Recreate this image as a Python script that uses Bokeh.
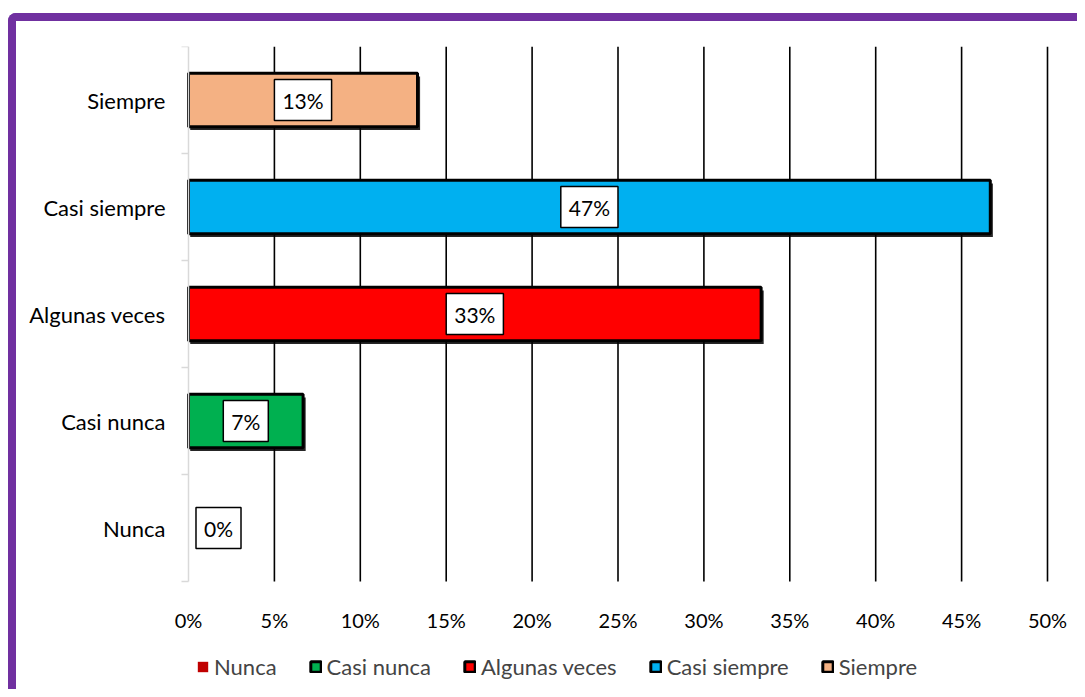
from bokeh.plotting import figure
from bokeh.models import (ColumnDataSource, FixedTicker, PrintfTickFormatter,
                          Legend, LegendItem)
from bokeh.core.properties import value
from bokeh.embed import file_html
from bokeh.resources import INLINE

# ---- data ----
categories = ["Nunca", "Casi nunca", "Algunas veces", "Casi siempre", "Siempre"]
percents = [0.0, 6.67, 33.33, 46.67, 13.33]
labels = ["0%", "7%", "33%", "47%", "13%"]
colors = ["#C00000", "#00B050", "#FF0000", "#00B0F0", "#F4B183"]
x_ticks = [0, 5, 10, 15, 20, 25, 30, 35, 40, 45, 50]

FONT = "Lato"
N = len(categories)
XMAX = x_ticks[-1]

ypos = [i + 0.5 for i in range(N)]
src = ColumnDataSource(dict(
    cat=categories, val=percents, lab=labels, color=colors, y=ypos,
    lx=[v / 2 for v in percents],
    xoff=[0 if v > 0 else 30 for v in percents],
    la=[1 if v > 0 else 0 for v in percents],
))
shadow = ColumnDataSource(dict(
    y=[y - 0.03 for y, v in zip(ypos, percents) if v > 0],
    right=[v + 0.15 for v in percents if v > 0],
))

# Frame covers nearly the whole canvas; both axes are pinned at 0 so that
# labels and legend stay inside it.  Plot area: 859 px wide (0..50),
# 535 px tall (5 bands of 107 px).
W, H = 1069, 676
ML, MR, MT, MB = 4, 4, 25, 7
px_x = 859 / XMAX
px_y = 107
x_start = -(172 - ML) / px_x
x_end = XMAX + ((W - MR) - (172 + 859)) / px_x
y_bottom = N - (H - MT - MB) / px_y

p = figure(width=W, height=H, x_range=(x_start, x_end), y_range=(y_bottom, N),
           output_backend="svg", toolbar_location=None,
           min_border_left=ML, min_border_right=MR,
           min_border_top=MT, min_border_bottom=MB)
p.styles = {"border-left": "8px solid #7030A0", "border-top": "8px solid #7030A0",
            "border-top-left-radius": "8px", "margin-top": "13px",
            "margin-left": "8px"}
p.outline_line_color = None

# gridlines (vertical lines only across the category bands)
p.xgrid.visible = False
p.ygrid.visible = False
grid_x = x_ticks[1:]
p.segment(x0=grid_x, y0=[0] * len(grid_x), x1=grid_x, y1=[N] * len(grid_x),
          line_color="black", line_width=1.6)

# x axis, pinned at y = 0
p.xaxis.fixed_location = 0
p.xaxis.bounds = (0, XMAX)
p.xaxis.ticker = FixedTicker(ticks=x_ticks)
p.xaxis.formatter = PrintfTickFormatter(format="%d%%")
p.xaxis.axis_line_color = None
p.xaxis.major_tick_line_color = None
p.xaxis.minor_tick_line_color = None
p.xaxis.major_label_text_font = FONT
p.xaxis.major_label_text_font_size = "20px"
p.xaxis.major_label_text_color = "#000000"
p.xaxis.major_label_standoff = 20

# y axis, pinned at x = 0
p.yaxis.fixed_location = 0
p.yaxis.bounds = (0, N)
p.yaxis.ticker = FixedTicker(ticks=ypos, minor_ticks=list(range(N + 1)))
p.yaxis.major_label_overrides = {y: c for y, c in zip(ypos, categories)}
p.yaxis.axis_line_color = "#D9D9D9"
p.yaxis.axis_line_width = 1.5
p.yaxis.major_tick_line_color = None
p.yaxis.minor_tick_line_color = "#D9D9D9"
p.yaxis.minor_tick_line_width = 1.5
p.yaxis.minor_tick_out = 7
p.yaxis.minor_tick_in = 0
p.yaxis.major_label_text_font = FONT
p.yaxis.major_label_text_font_size = "22px"
p.yaxis.major_label_text_color = "#000000"
p.yaxis.major_label_standoff = 16

# bars
p.hbar(y="y", left=0.1, right="right", height=0.5, source=shadow,
       fill_color="black", line_color=None, fill_alpha=0.85)
bars = p.hbar(y="y", left=0, right="val", height=0.5, source=src,
              fill_color="color", line_color="black", line_width=3,
              line_alpha="la")

# data labels
p.text(x="lx", y="y", text="lab", x_offset="xoff", source=src,
       text_align="center", text_baseline="middle",
       text_font=value(FONT), text_font_size="21px", text_color="black",
       background_fill_color="white", border_line_color="black",
       border_line_width=1.5, padding=8)

legend = Legend(items=[LegendItem(label=c, renderers=[bars], index=i)
                       for i, c in enumerate(categories)],
                orientation="horizontal", location=(176, 10),
                glyph_width=13, glyph_height=13, label_standoff=5,
                spacing=32, padding=4, margin=0,
                label_text_font=FONT, label_text_font_size="22px",
                border_line_color=None, background_fill_alpha=0)
p.add_layout(legend, "center")

open("out.html", "w").write(file_html(p, INLINE))
